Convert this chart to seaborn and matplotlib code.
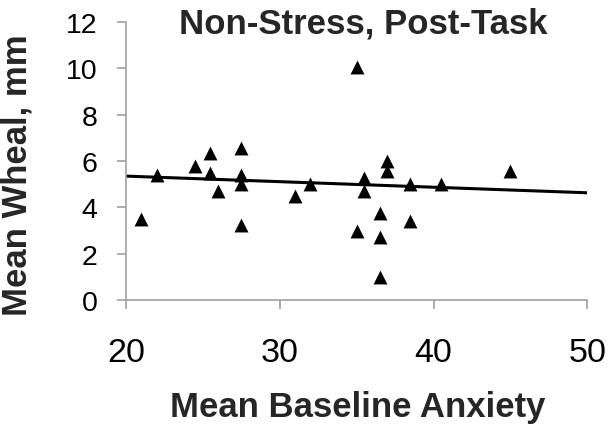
import matplotlib
matplotlib.use("Agg")
import matplotlib.pyplot as plt
import seaborn as sns
import pandas as pd

anxiety = [21.0, 22.0, 24.5, 25.5, 25.5, 26.0, 27.5, 27.5, 27.5, 27.5, 31.0, 32.0,
           35.0, 35.0, 35.5, 35.5, 36.5, 36.5, 36.5, 37.0, 37.0, 38.5, 38.5, 40.5, 45.0]
wheal = [3.5, 5.4, 5.8, 6.35, 5.5, 4.7, 6.55, 5.4, 5.0, 3.25, 4.5, 5.0,
         10.05, 3.0, 5.25, 4.7, 3.75, 2.7, 1.0, 6.0, 5.55, 5.0, 3.4, 5.0, 5.55]
trend_x = [20, 50]
trend_y = [5.35, 4.63]

x_ticks = [20, 30, 40, 50]
y_ticks = [0, 2, 4, 6, 8, 10, 12]

sns.set_theme(style="white")
plt.rcParams['font.family'] = ['Liberation Sans', 'DejaVu Sans']

df = pd.DataFrame({"x": anxiety, "y": wheal})
tr = pd.DataFrame({"x": trend_x, "y": trend_y})

fig = plt.figure(figsize=(6.08, 4.27), dpi=100)
ax = fig.add_axes([0.207, 0.295, 0.759, 0.651])

sns.lineplot(data=tr, x="x", y="y", ax=ax, color="black", linewidth=2.2, zorder=2)
sns.scatterplot(data=df, x="x", y="y", ax=ax, marker="^", color="black",
                s=100, edgecolor="black", linewidth=0, zorder=3)

ax.set_xlim(20, 50)
ax.set_ylim(0, 12)
ax.set_xticks(x_ticks)
ax.set_yticks(y_ticks)
ax.set_xticklabels([str(v) for v in x_ticks], fontsize=24.5)
ax.set_yticklabels([str(v) for v in y_ticks], fontsize=20.5)

gray = "#a0a0a0"
for s in ["top", "right"]:
    ax.spines[s].set_visible(False)
for s in ["left", "bottom"]:
    ax.spines[s].set_color(gray)
    ax.spines[s].set_linewidth(1.2)
ax.tick_params(axis="both", which="both", direction="out", length=6.5, width=1.2,
               color=gray, labelcolor="black", left=True, bottom=True)
ax.tick_params(axis="x", pad=20)
ax.tick_params(axis="y", pad=14)

ax.set_xlabel("Mean Baseline Anxiety", fontsize=25, fontweight="bold")
ax.set_ylabel("Mean Wheal, mm", fontsize=25, fontweight="bold")
ax.xaxis.set_label_coords(0.503, -0.325)
ax.yaxis.set_label_coords(-0.20, 0.451)

ax.text(0.514, 0.996, "Non-Stress, Post-Task", transform=ax.transAxes, ha="center",
        va="center", fontsize=25, fontweight="bold")

fig.savefig("out.png", dpi=100)
